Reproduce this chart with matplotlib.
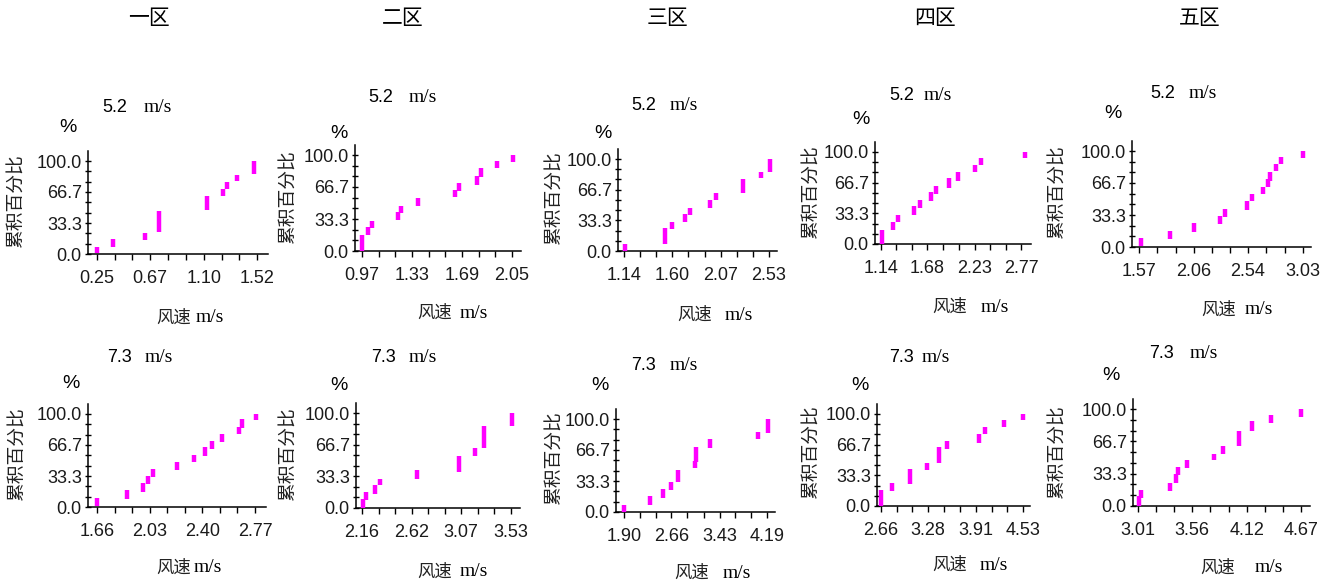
import matplotlib
matplotlib.use('Agg')
import matplotlib.pyplot as plt
from matplotlib.ticker import FixedLocator

plt.rcParams['font.family'] = ['Liberation Sans', 'Noto Sans CJK SC', 'DejaVu Sans']

# ---------------- data ----------------
regions = ['一区', '二区', '三区', '四区', '五区']
speed_labels = ['5.2', '7.3']
ylabel_text = '累积百分比'
xlabel_text = '风速'
unit_text = 'm/s'
ytick_values = [0, 33.3, 66.7, 100]
ytick_labels = ['0.0', '33.3', '66.7', '100.0']

xticks_r1 = [[0.25, 0.67, 1.10, 1.52], [0.97, 1.33, 1.69, 2.05], [1.14, 1.60, 2.07, 2.53],
             [1.14, 1.68, 2.23, 2.77], [1.57, 2.06, 2.54, 3.03]]
xticks_r2 = [[1.66, 2.03, 2.40, 2.77], [2.16, 2.62, 3.07, 3.53], [1.90, 2.66, 3.43, 4.19],
             [2.66, 3.28, 3.91, 4.53], [3.01, 3.56, 4.12, 4.67]]

# each cluster: wind speed, low and high cumulative percentage
x_p1 = [0.25, 0.375, 0.63, 0.745, 1.12, 1.25, 1.28, 1.36, 1.50]
lo_p1 = [1, 8, 15, 24, 47, 62, 70, 79, 86]
hi_p1 = [7, 16, 23, 46, 62, 70, 77, 85, 100]

x_p2 = [0.97, 1.01, 1.04, 1.23, 1.25, 1.37, 1.64, 1.67, 1.80, 1.83, 1.94, 2.06]
lo_p2 = [0, 17, 24, 32, 40, 47, 56, 62, 69, 77, 86, 93]
hi_p2 = [17, 25, 31, 41, 47, 55, 64, 71, 78, 86, 94, 100]

x_p3 = [1.15, 1.53, 1.60, 1.72, 1.77, 1.96, 2.02, 2.28, 2.45, 2.54]
lo_p3 = [0, 8, 24, 32, 39, 47, 55, 63, 79, 86]
hi_p3 = [8, 25, 31, 40, 47, 55, 63, 78, 86, 100]

x_p4 = [1.155, 1.28, 1.34, 1.53, 1.59, 1.72, 1.78, 1.93, 2.04, 2.23, 2.30, 2.82]
lo_p4 = [0, 15, 24, 31, 39, 47, 54, 61, 69, 78, 86, 93]
hi_p4 = [15, 24, 31, 41, 48, 56, 63, 72, 78, 86, 94, 100]

x_p5 = [1.585, 1.85, 2.06, 2.29, 2.34, 2.53, 2.58, 2.67, 2.72, 2.74, 2.79, 2.83, 3.03]
lo_p5 = [1, 8, 16, 24, 31, 39, 48, 55, 63, 69, 79, 86, 93]
hi_p5 = [9, 17, 25, 32, 40, 48, 55, 63, 71, 78, 86, 94, 100]

x_p6 = [1.66, 1.87, 1.98, 2.02, 2.05, 2.22, 2.34, 2.42, 2.47, 2.54, 2.66, 2.68, 2.78]
lo_p6 = [1, 9, 16, 25, 32, 40, 48, 55, 62, 70, 78, 85, 94]
hi_p6 = [10, 18, 26, 33, 41, 48, 56, 64, 71, 78, 86, 95, 100]

x_p7 = [2.17, 2.20, 2.28, 2.33, 2.67, 3.05, 3.20, 3.28, 3.54]
lo_p7 = [0, 8, 15, 24, 31, 38, 55, 63, 86]
hi_p7 = [9, 17, 24, 31, 40, 55, 63, 86, 100]

x_p8 = [1.90, 2.31, 2.53, 2.66, 2.77, 3.03, 3.05, 3.28, 4.05, 4.21]
lo_p8 = [0, 8, 15, 24, 32, 47, 54, 69, 78, 85]
hi_p8 = [8, 17, 25, 32, 45, 55, 70, 78, 86, 100]

x_p9 = [2.66, 2.81, 3.04, 3.26, 3.43, 3.53, 3.95, 4.03, 4.28, 4.53]
lo_p9 = [0, 16, 24, 39, 47, 62, 69, 78, 86, 93]
hi_p9 = [17, 25, 40, 47, 64, 71, 78, 86, 94, 100]

x_p10 = [3.02, 3.04, 3.34, 3.40, 3.42, 3.51, 3.78, 3.88, 4.04, 4.17, 4.36, 4.67]
lo_p10 = [0, 8, 15, 24, 32, 39, 47, 54, 62, 77, 86, 92]
hi_p10 = [10, 16, 24, 33, 40, 47, 54, 62, 77, 88, 94, 100]

# ---------------- layout (pixels) ----------------
W, H = 1332, 584
# left, y0, y100, first tick px, last tick px, right end
layout = [
    (88, 254, 161, 97, 257, 268),
    (355, 251, 155, 362, 512, 521),
    (618, 251, 159, 624, 769, 777),
    (875, 244, 152, 881, 1021, 1031),
    (1132, 247, 151, 1139, 1303, 1311),
    (88, 507, 414, 97, 255, 266),
    (356, 508, 413, 362, 511, 520),
    (616, 512, 419, 624, 767, 775),
    (877, 506, 414, 881, 1023, 1030),
    (1133, 506, 409, 1138, 1301, 1310),
]
title_pos = [(115, 158, 107), (381, 423, 98), (644, 684, 105), (902, 938, 95), (1163, 1203, 94),
             (120, 159, 358), (383, 423, 358), (644, 684, 365), (901, 936, 358), (1162, 1204, 353)]
pct_pos = [(68, 127), (339, 133), (603, 133), (861, 120), (1113, 113),
           (71, 384), (339, 385), (600, 385), (860, 385), (1111, 375)]
ylab_pos = [(16, 201), (288, 197), (554, 198), (811, 192), (1057, 192),
            (17, 454), (288, 454), (554, 458), (811, 452), (1057, 452)]
xlab_pos = [(174, 210, 318), (435, 474, 313), (695, 739, 315), (950, 995, 307), (1219, 1259, 310),
            (174, 208, 568), (435, 474, 572), (692, 737, 573), (950, 994, 565), (1218, 1269, 568)]
header_x = [149, 403, 668, 935, 1200]
header_y = 18

xs_all = [x_p1, x_p2, x_p3, x_p4, x_p5, x_p6, x_p7, x_p8, x_p9, x_p10]
lo_all = [lo_p1, lo_p2, lo_p3, lo_p4, lo_p5, lo_p6, lo_p7, lo_p8, lo_p9, lo_p10]
hi_all = [hi_p1, hi_p2, hi_p3, hi_p4, hi_p5, hi_p6, hi_p7, hi_p8, hi_p9, hi_p10]
xticks_all = xticks_r1 + xticks_r2

fig = plt.figure(figsize=(W / 100, H / 100), dpi=100)


def fx(p):
    return p / W


def fy(p):
    return 1 - p / H


SANS = 'Liberation Sans'
SERIF = 'Liberation Serif'
CJK = 'Noto Sans CJK SC'
MAG = '#FF00FF'

for i in range(10):
    left, y0, y100, fpx, lpx, right = layout[i]
    ticks = xticks_all[i]
    ppu = (lpx - fpx) / (ticks[-1] - ticks[0])
    xl = ticks[0] - (fpx - left) / ppu
    xr = ticks[-1] + (right - lpx) / ppu
    ytop = y100 - 10
    ax = fig.add_axes([fx(left), fy(y0), (right - left) / W, (y0 - ytop) / H])
    ax.set_xlim(xl, xr)
    ax.set_ylim(0, 100 * (y0 - ytop) / (y0 - y100))
    ax.patch.set_alpha(0)
    ax.vlines(xs_all[i], lo_all[i], hi_all[i], colors=MAG, lw=3.2, clip_on=False, zorder=3)

    for s in ['top', 'right']:
        ax.spines[s].set_visible(False)
    for s in ['left', 'bottom']:
        ax.spines[s].set_linewidth(1.1)
        ax.spines[s].set_color('black')

    ax.set_yticks(ytick_values)
    ax.set_yticklabels(ytick_labels)
    yminor = []
    for a, b in zip(ytick_values[:-1], ytick_values[1:]):
        yminor += [a + (b - a) / 3, a + 2 * (b - a) / 3]
    ax.yaxis.set_minor_locator(FixedLocator(yminor))

    ax.set_xticks(ticks)
    ax.set_xticklabels([f'{t:.2f}' for t in ticks])
    xminor = []
    for a, b in zip(ticks[:-1], ticks[1:]):
        xminor += [a + (b - a) / 3, a + 2 * (b - a) / 3]
    ax.xaxis.set_minor_locator(FixedLocator(xminor))

    ax.tick_params(axis='y', which='both', direction='inout', length=5, width=1, pad=2)
    ax.tick_params(axis='x', which='both', direction='out', length=4.5, width=1, pad=7)
    for lab in ax.get_xticklabels() + ax.get_yticklabels():
        lab.set_fontfamily(SANS)
        lab.set_fontsize(13)
        lab.set_color('#1a1a1a')

    row = i // 5
    tx1, tx2, ty = title_pos[i]
    fig.text(fx(tx1), fy(ty), speed_labels[row], family=SANS, fontsize=13, ha='center', va='center')
    fig.text(fx(tx2), fy(ty), unit_text, family=SERIF, fontsize=14, ha='center', va='center')
    px, py = pct_pos[i]
    fig.text(fx(px), fy(py), '%', family=SANS, fontsize=14, ha='center', va='center')
    lx, ly = ylab_pos[i]
    fig.text(fx(lx), fy(ly), ylabel_text, family=CJK, fontsize=13.5, rotation=90,
             ha='center', va='center', color='#222222')
    ax1, ax2, ay = xlab_pos[i]
    fig.text(fx(ax1), fy(ay), xlabel_text, family=CJK, fontsize=12.5, ha='center', va='center',
             color='#222222')
    fig.text(fx(ax2), fy(ay), unit_text, family=SERIF, fontsize=14, ha='center', va='center')

for hx, name in zip(header_x, regions):
    fig.text(fx(hx), fy(header_y), name, family=CJK, fontsize=15, ha='center', va='center')

fig.savefig('out.png', dpi=100, facecolor='white')
